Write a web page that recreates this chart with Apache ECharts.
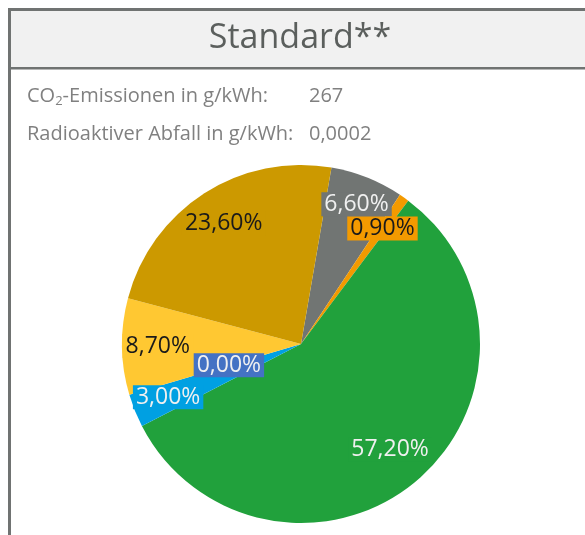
<!DOCTYPE html>
<html>
<head>
<meta charset="utf-8">
<script src="https://cdn.jsdelivr.net/npm/echarts@6/dist/echarts.min.js"></script>
<style>
  html, body { margin: 0; padding: 0; background: #fff; }
  #chart { width: 585px; height: 535px; }
</style>
</head>
<body>
<div id="chart"></div>
<script>
// Strommix "Standard" – Anteile in Prozent (im Uhrzeigersinn ab oben)
const categories = ['Kernkraft', 'Sonstige fossile', 'Erneuerbare', 'Erdgas', 'Sonstige', 'Steinkohle', 'Braunkohle'];
const shares = [6.6, 0.9, 57.2, 3.0, 0.0, 8.7, 23.6];
const infoLabels = ['CO{sub|2}-Emissionen in g/kWh:', 'Radioaktiver Abfall in g/kWh:'];
const infoValues = ['267', '0,0002'];

const sliceColors = ['#717573', '#f39a00', '#21a13c', '#00a0e2', '#4472c4', '#ffc832', '#cc9900'];
const labelColors = ['#f0f0f0', '#1a1a1a', '#f0f0f0', '#f0f0f0', '#f0f0f0', '#1a1a1a', '#1a1a1a'];
// Abstand der Beschriftung vom Mittelpunkt, Anteil am Radius
const labelDist = [0.84, 0.79, 0.77, 0.80, 0.42, 0.80, 0.80];

const font = '"Open Sans", "Noto Sans", sans-serif';
const cx = 301, cy = 344, R = 179;

const myChart = echarts.init(document.getElementById('chart'));

const pieData = categories.map((name, i) => ({
  name: name,
  value: shares[i],
  itemStyle: { color: sliceColors[i] },
  label: { color: labelColors[i], backgroundColor: sliceColors[i] }
}));

const option = {
  animation: false,
  graphic: [
    // Rahmen + Kopfzeile
    { type: 'rect', shape: { x: 9.5, y: 9.5, width: 600, height: 560 },
      style: { fill: '#fff', stroke: '#707372', lineWidth: 3 }, z: 0 },
    { type: 'rect', shape: { x: 11, y: 11, width: 590, height: 56 },
      style: { fill: '#f1f1f1' }, z: 1 },
    { type: 'rect', shape: { x: 9, y: 67, width: 590, height: 2.5 },
      style: { fill: '#707372' }, z: 1 },
    { type: 'text', x: 300, y: 38, z: 2,
      style: { text: 'Standard**', font: '400 34px ' + font, fill: '#5b5f5d',
               align: 'center', verticalAlign: 'middle' } },
    ...infoLabels.map((t, i) => ({
      type: 'text', x: 27, y: 96 + i * 38, z: 2,
      style: { text: t, fontSize: 20, fontFamily: font, fill: '#808080',
               verticalAlign: 'middle',
               rich: { sub: { fontSize: 13, fontFamily: font, fill: '#808080', padding: [10, 0, 0, 0] } } }
    })),
    ...infoValues.map((t, i) => ({
      type: 'text', x: 309, y: 96 + i * 38, z: 2,
      style: { text: t, fontSize: 20, fontFamily: font, fill: '#808080', verticalAlign: 'middle' }
    }))
  ],
  series: [
    {
      type: 'pie',
      center: [cx, cy],
      radius: R,
      startAngle: 80.2,
      clockwise: true,
      avoidLabelOverlap: false,
      z: 3,
      itemStyle: { borderWidth: 0 },
      label: {
        show: true,
        position: 'inside',
        fontSize: 23,
        fontFamily: font,
        lineHeight: 24,
        padding: [0, 3],
        formatter: p => p.value.toFixed(2).replace('.', ',') + '%'
      },
      labelLine: { show: false },
      emphasis: { disabled: true },
      // Beschriftungen entlang der Winkelhalbierenden verschieben
      labelLayout: function (p) {
        const r = p.labelRect;
        const lx = r.x + r.width / 2, ly = r.y + r.height / 2;
        const d = Math.hypot(lx - cx, ly - cy) || 1;
        const target = labelDist[p.dataIndex] * R;
        return { dx: (lx - cx) / d * target - (lx - cx), dy: (ly - cy) / d * target - (ly - cy) };
      },
      data: pieData
    }
  ]
};

myChart.setOption(option);
</script>
</body>
</html>
